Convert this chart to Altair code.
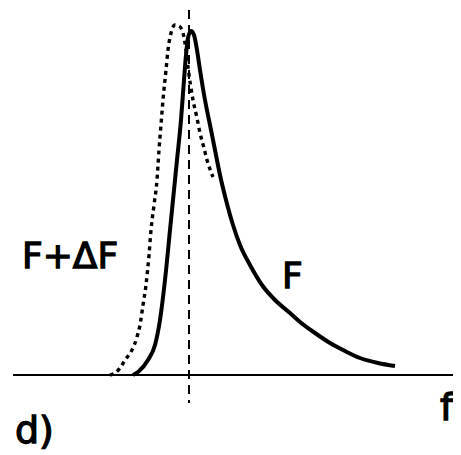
import altair as alt
import pandas as pd

# F (solid) : frequency offset from f0 (arbitrary units), amplitude
f_solid = [-56, -51, -41, -34, -29, -24, -19, -15, -12, -8, -5, -3, -1, 2, 5, 8, 11, 16, 21, 26, 31, 37, 44, 51, 61, 73, 86, 101, 111, 126, 141, 156, 171, 189, 206]
a_solid = [0, 3, 15, 30, 55, 95, 145, 185, 215, 255, 295, 320, 337, 344, 340, 325, 305, 275, 250, 225, 200, 175, 150, 130, 110, 90, 75, 62, 53, 42, 32, 24, 17, 12, 9]

# F + dF (dashed)
f_dash = [-79, -74, -69, -64, -57, -52, -49, -46, -43, -40, -38, -35, -32, -30, -28, -26, -23, -21, -18, -14, -10, -6, -3, -1, 4, 8, 11, 15, 18, 24]
a_dash = [0, 2, 7, 15, 25, 38, 50, 70, 90, 120, 145, 170, 195, 225, 250, 275, 305, 325, 342, 350, 349, 342, 325, 308, 275, 257, 242, 227, 215, 198]

base_f = [-176, 264]
base_a = [0, 0]

solid = pd.DataFrame({"f": f_solid, "a": a_solid, "i": range(len(f_solid))})
dash = pd.DataFrame({"f": f_dash, "a": a_dash, "i": range(len(f_dash))})
base = pd.DataFrame({"f": base_f, "a": base_a})
vline = pd.DataFrame({"f": [0], "a": [365], "a2": [-28]})

X = alt.X("f:Q", scale=alt.Scale(domain=[-181, 264]), axis=None)
Y = alt.Y("a:Q", scale=alt.Scale(domain=[-80, 367]), axis=None)

base_line = alt.Chart(base).mark_line(color="black", strokeWidth=2).encode(x=X, y=Y)

v = alt.Chart(vline).mark_rule(color="black", strokeWidth=2, strokeDash=[9, 6]).encode(
    x=X, y=Y, y2="a2:Q")

dashed = alt.Chart(dash).mark_line(
    color="black", strokeWidth=3.4, strokeDash=[4, 4], interpolate="monotone"
).encode(x=X, y=Y, order="i:Q")

solid_line = alt.Chart(solid).mark_line(
    color="black", strokeWidth=4, interpolate="monotone"
).encode(x=X, y=Y, order="i:Q")

curve_labels = ["F+\u0394F", "F"]
axis_labels = ["f", "d)"]

lab1 = pd.DataFrame({"t": curve_labels, "px": [14, 274], "py": [260, 280]})
lab2 = pd.DataFrame({"t": axis_labels, "px": [432, 7], "py": [412, 435]})

text1 = alt.Chart(lab1).mark_text(
    align="left", baseline="alphabetic", fontSize=36, font="DejaVu Sans",
    color="black", stroke="black", strokeWidth=1.3
).encode(x=alt.X("px:Q", scale=None), y=alt.Y("py:Q", scale=None), text="t:N")

text2 = alt.Chart(lab2).mark_text(
    align="left", baseline="alphabetic", fontSize=38, font="DejaVu Sans",
    color="black", stroke="black", strokeWidth=1.3
).encode(x=alt.X("px:Q", scale=None), y=alt.Y("py:Q", scale=None), text="t:N")

chart = alt.layer(base_line, v, dashed, solid_line, text1, text2).properties(
    width=445, height=447, padding=0, autosize="none"
).configure_view(stroke=None)

chart.save("out.html", embed_options={"renderer": "svg", "actions": False})
